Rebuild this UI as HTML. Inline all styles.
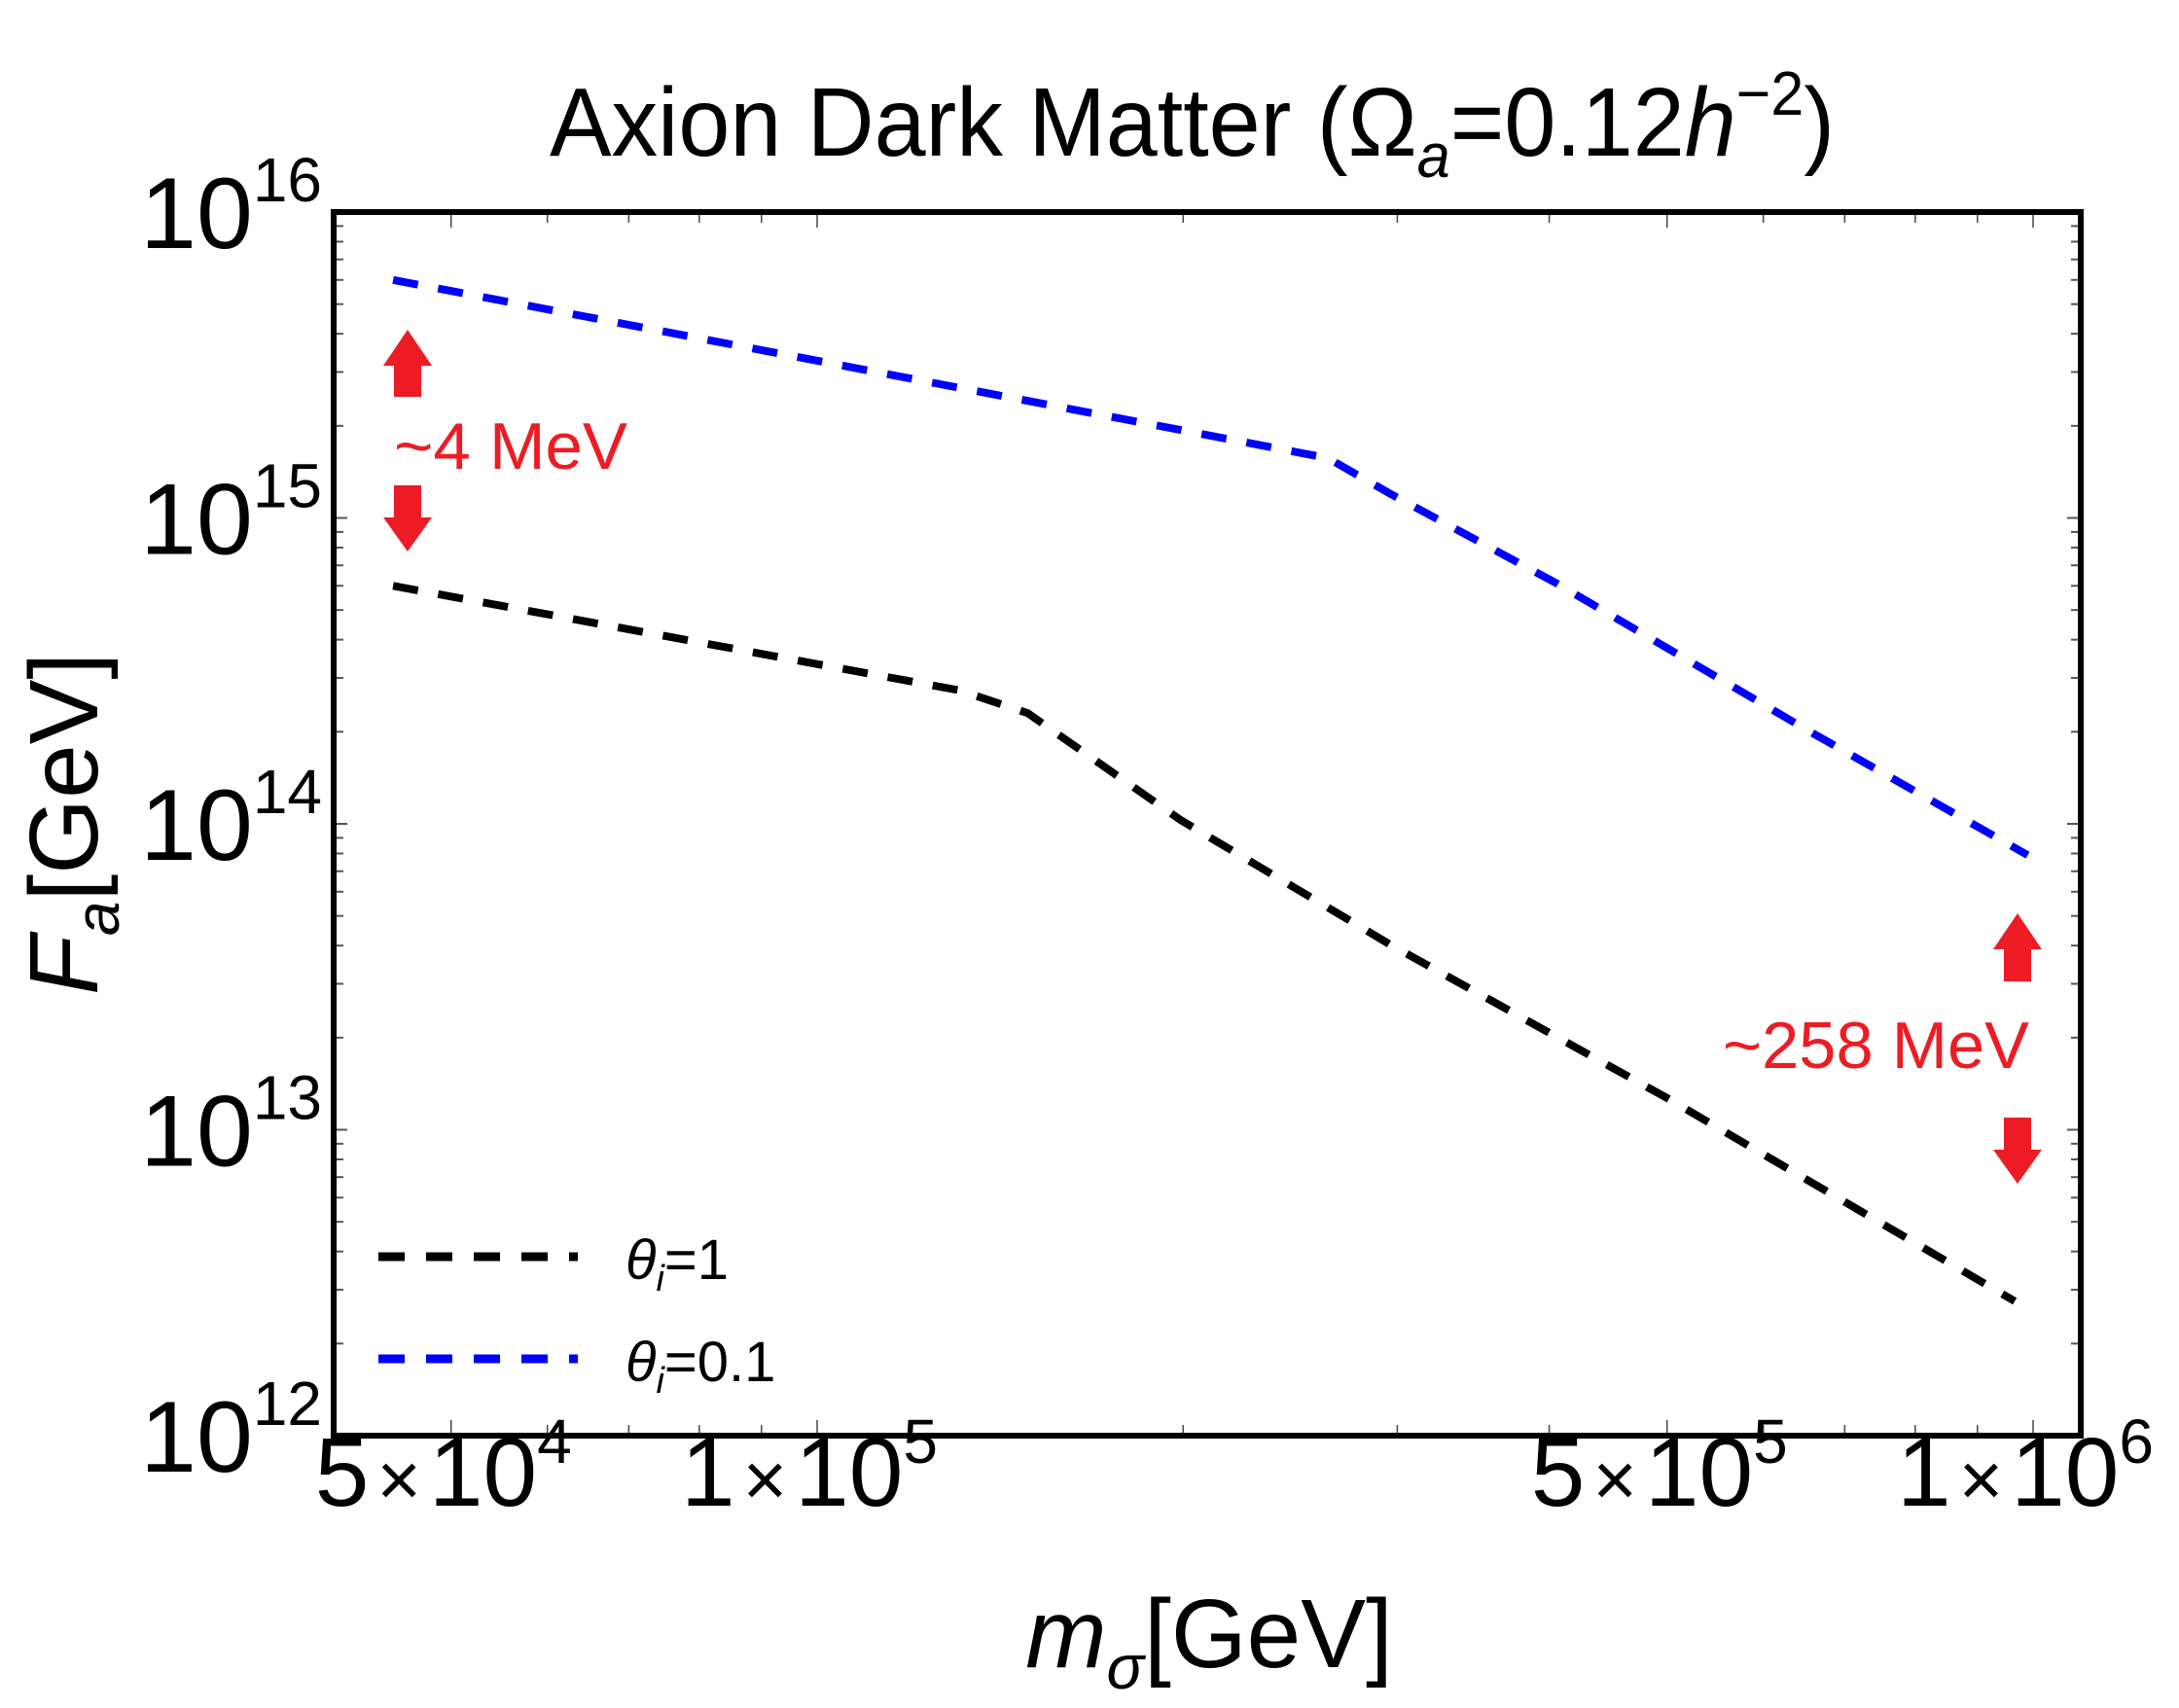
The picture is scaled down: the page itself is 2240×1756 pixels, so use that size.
<!DOCTYPE html>
<html><head><meta charset="utf-8"><style>
html,body{margin:0;padding:0;background:#fff;}
svg{display:block;font-family:"Liberation Sans",Arial,sans-serif;}
</style></head><body>
<svg id="chart" width="2240" height="1756" viewBox="0 0 2240 1756" xmlns="http://www.w3.org/2000/svg">
<rect width="2240" height="1756" fill="#fff"/>
<text x="565" y="160" font-size="100" textLength="1321" lengthAdjust="spacingAndGlyphs">Axion Dark Matter (Ω<tspan font-style="italic" font-size="64" dy="22">a</tspan><tspan dy="-22">=0.12</tspan><tspan font-style="italic">h</tspan><tspan font-size="64" dy="-42">−2</tspan><tspan dy="42">)</tspan></text>
<g id="ticks"></g>
<g id="ylabels"></g>
<g id="xlabels"></g>
<g id="series"></g>
<rect x="343" y="218" width="1796" height="1258" fill="none" stroke="#000" stroke-width="6"/>
<text x="1243" y="1714" font-size="100" text-anchor="middle"><tspan font-style="italic">m</tspan><tspan font-style="italic" font-size="64" dy="22">σ</tspan><tspan dy="-22">[GeV]</tspan></text>
<text transform="translate(100,847) rotate(-90)" font-size="100" text-anchor="middle"><tspan font-style="italic">F</tspan><tspan font-style="italic" font-size="64" dy="22">a</tspan><tspan dy="-22">[GeV]</tspan></text>
<g>
<line x1="389" y1="1292" x2="594" y2="1292" stroke="#000" stroke-width="9" stroke-dasharray="27 22"/>
<text x="643" y="1315" font-size="58"><tspan font-style="italic">θ</tspan><tspan font-style="italic" font-size="38" dy="12">i</tspan><tspan dy="-12">=1</tspan></text>
<line x1="389" y1="1397" x2="594" y2="1397" stroke="#0000ff" stroke-width="9" stroke-dasharray="27 22"/>
<text x="643" y="1420" font-size="58"><tspan font-style="italic">θ</tspan><tspan font-style="italic" font-size="38" dy="12">i</tspan><tspan dy="-12">=0.1</tspan></text>
</g>
<g fill="#ed1c24">
<path d="M419,339 L444,376 L433,376 L433,408 L405,408 L405,376 L394,376 Z"/>
<text x="405" y="482" font-size="68" textLength="240" lengthAdjust="spacingAndGlyphs">~4 MeV</text>
<path d="M405,499 L433,499 L433,532 L444,532 L419,567 L394,532 L405,532 Z"/>
</g>
<g fill="#ed1c24">
<path d="M2074,939 L2099,976 L2088,976 L2088,1009 L2060,1009 L2060,976 L2049,976 Z"/>
<text x="1771" y="1098" font-size="68" textLength="315" lengthAdjust="spacingAndGlyphs">~258 MeV</text>
<path d="M2060,1149 L2088,1149 L2088,1182 L2099,1182 L2074,1217 L2049,1182 L2060,1182 Z"/>
</g>
</svg>
<script>
const xTickValues = [5e4, 1e5, 5e5, 1e6];
const xTickMant = ['5', '1', '5', '1'];
const xTickExp = ['4', '5', '5', '6'];
const yTickExps = [12, 13, 14, 15, 16];
const blackX = [4.48e4, 1.31e5, 1.49e5, 1.99e5, 2.96e5, 5.0e5, 9.66e5];
const blackY = [6.0e14, 2.73e14, 2.3e14, 1.03e14, 4.03e13, 1.27e13, 2.75e12];
const blueX = [4.48e4, 2.63e5, 2.96e5, 4.06e5, 6.5e5, 9.9e5];
const blueY = [6.0e15, 1.57e15, 1.2e15, 6.1e14, 2.04e14, 7.9e13];

const NS = 'http://www.w3.org/2000/svg';
const L = 343, R = 2139, T = 218, B = 1476;
function xs(v){ return 840 + 1250 * Math.log10(v / 1e5); }
function ys(v){ return T + 314.5 * (16 - Math.log10(v)); }
function mk(tag, attrs, parent){ const e = document.createElementNS(NS, tag); for (const k in attrs) e.setAttribute(k, attrs[k]); parent.appendChild(e); return e; }

const ticks = document.getElementById('ticks');
for (let d = 4; d <= 6; d++) {
  for (let m = 1; m <= 9; m++) {
    const v = m * Math.pow(10, d);
    const x = xs(v);
    if (x < L + 2 || x > R - 2) continue;
    const major = (m === 1 || m === 5);
    const len = major ? 16 : 11;
    const t1 = mk('line', {x1:x, y1:T, x2:x, y2:T+len, stroke:'#444', 'stroke-width':1.5}, ticks);
    
    
    const t2 = mk('line', {x1:x, y1:B, x2:x, y2:B-len, stroke:'#444', 'stroke-width':1.5}, ticks);
    
    
  }
}
for (let d = 12; d <= 15; d++) {
  for (let m = 1; m <= 9; m++) {
    const v = m * Math.pow(10, d);
    const y = ys(v);
    const len = m === 1 ? 14 : 10;
    const t1 = mk('line', {x1:L, y1:y, x2:L+len, y2:y, stroke:'#555', 'stroke-width':2}, ticks);
    
    
    const t2 = mk('line', {x1:R, y1:y, x2:R-len, y2:y, stroke:'#555', 'stroke-width':2}, ticks);
    
    
  }
}
const yl = document.getElementById('ylabels');
yTickExps.forEach(e => {
  const t = mk('text', {x:331, y:ys(Math.pow(10, e)) + 37, 'font-size':104, 'text-anchor':'end'}, yl);
  
  
  t.innerHTML = '10<tspan font-size="64" dy="-48">' + e + '</tspan>';
});
const xl = document.getElementById('xlabels');
xTickValues.forEach((v, i) => {
  const t = mk('text', {x:xs(v) - 8, y:1548, 'font-size':100, 'text-anchor':'middle'}, xl);
  
  
  t.innerHTML = xTickMant[i] + '<tspan font-size="78" dx="8">×</tspan><tspan dx="8">10</tspan><tspan font-size="64" dy="-44">' + xTickExp[i] + '</tspan>';
});
const sg = document.getElementById('series');
function drawSeries(xv, yv, color, name){
  const d = xv.map((v, i) => (i ? 'L' : 'M') + xs(v).toFixed(1) + ',' + ys(yv[i]).toFixed(1)).join(' ');
  const p = mk('path', {d:d, fill:'none', stroke:color, 'stroke-width':8, 'stroke-dasharray':'26 21', 'stroke-linejoin':'round'}, sg);
  
  
}
drawSeries(blackX, blackY, '#000', 'series-theta-1');
drawSeries(blueX, blueY, '#0000ff', 'series-theta-0.1');
</script>
</body></html>
